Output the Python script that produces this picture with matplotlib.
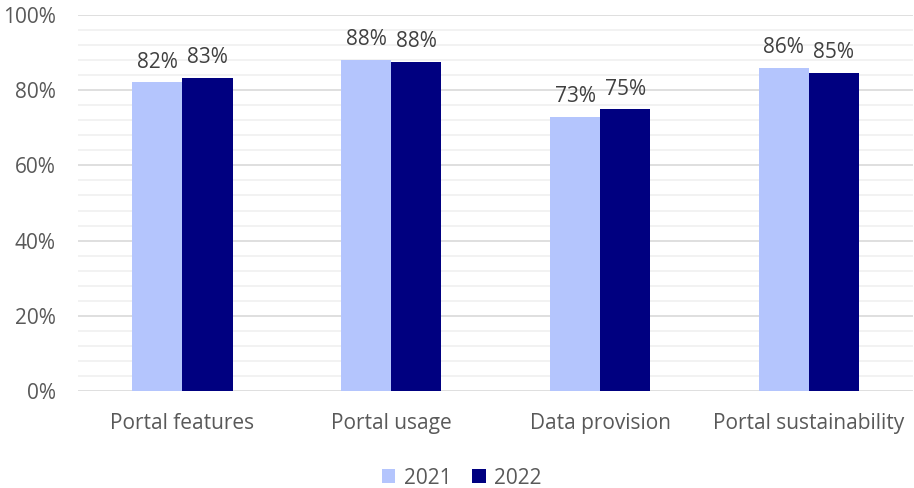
import numpy as np
import matplotlib.pyplot as plt
from matplotlib.ticker import MultipleLocator, PercentFormatter

categories = ["Portal features", "Portal usage", "Data provision", "Portal sustainability"]
years = ["2021", "2022"]
values_2021 = [82.1, 88.0, 73.0, 86.0]
values_2022 = [83.3, 87.6, 74.9, 84.6]
colors = ["#b4c5fd", "#000080"]

plt.rcParams['font.family'] = ['Open Sans', 'DejaVu Sans']


def main():
    fig = plt.figure(figsize=(9.14, 4.88), dpi=100)
    ax = fig.add_axes([0.0853, 0.199, 0.914, 0.77])

    x = np.arange(len(categories))
    w = 0.24
    series = [values_2021, values_2022]
    for i, vals in enumerate(series):
        pos = x + (i - 0.5) * w
        bars = ax.bar(pos, vals, w, color=colors[i], label=years[i], zorder=3)
        for b, v in zip(bars, vals):
            ax.annotate("%d%%" % round(v), (b.get_x() + b.get_width() / 2, v),
                        xytext=(0, 7), textcoords="offset points",
                        ha="center", va="bottom", fontsize=15, color="#404040")

    ax.set_xlim(-0.5, len(categories) - 0.5)
    ax.set_ylim(0, 100)
    ax.yaxis.set_major_locator(MultipleLocator(20))
    ax.yaxis.set_minor_locator(MultipleLocator(4))
    ax.yaxis.set_major_formatter(PercentFormatter(decimals=0))
    ax.grid(axis="y", which="major", color="#d9d9d9", lw=1.2, zorder=0)
    ax.grid(axis="y", which="minor", color="#f0f0f0", lw=1.2, zorder=0)
    ax.set_xticks(x)
    ax.set_xticklabels(categories)
    ax.tick_params(axis="both", which="both", length=0, labelsize=15,
                   labelcolor="#595959")
    ax.tick_params(axis="x", pad=16)
    ax.tick_params(axis="y", pad=16)
    for s in ax.spines.values():
        s.set_visible(False)

    fig.legend(loc="lower center", bbox_to_anchor=(0.505, -0.04), ncol=2, frameon=False,
               fontsize=15, handlelength=0.65, handleheight=0.65, handletextpad=0.4,
               columnspacing=1.0, labelcolor="#595959")

    fig.savefig("out.png", dpi=100)


if __name__ == "__main__":
    main()
